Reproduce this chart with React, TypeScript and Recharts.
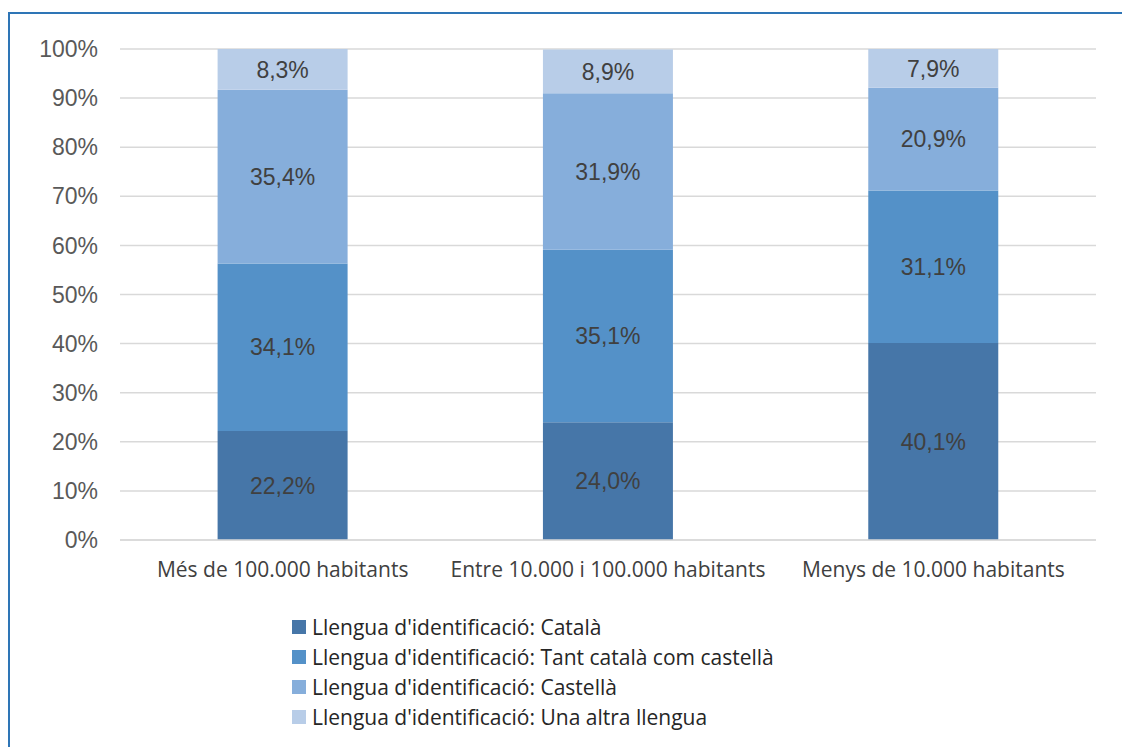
import { BarChart, Bar, XAxis, YAxis, CartesianGrid, LabelList } from "recharts";

const categories = [
  "Més de 100.000 habitants",
  "Entre 10.000 i 100.000 habitants",
  "Menys de 10.000 habitants",
];
const catala = [22.2, 24.0, 40.1];
const tantCom = [34.1, 35.1, 31.1];
const castella = [35.4, 31.9, 20.9];
const altra = [8.3, 8.9, 7.9];
const yTicks = [0, 10, 20, 30, 40, 50, 60, 70, 80, 90, 100];

const series = [
  { key: "catala", name: "Llengua d'identificació: Català", color: "#4676A8" },
  { key: "tantCom", name: "Llengua d'identificació: Tant català com castellà", color: "#5491C8" },
  { key: "castella", name: "Llengua d'identificació: Castellà", color: "#86AEDB" },
  { key: "altra", name: "Llengua d'identificació: Una altra llengua", color: "#B8CDE8" },
];

const data = categories.map((name, i) => ({
  name,
  catala: catala[i],
  tantCom: tantCom[i],
  castella: castella[i],
  altra: altra[i],
}));

const fmt = (v: number) => v.toFixed(1).replace(".", ",") + "%";

export default function App() {
  return (
    <div
      style={{
        marginTop: 4,
        width: 1122,
        height: 735,
        borderTop: "2px solid #2E75B6",
        borderLeft: "2px solid #2E75B6",
        boxSizing: "border-box",
        background: "#fff",
      }}
    >
      <BarChart
        width={1120}
        height={580}
        data={data}
        margin={{ top: 35, right: 34, left: 0, bottom: 14 }}
        barCategoryGap="30%"
      >
        <CartesianGrid vertical={false} stroke="#D9D9D9" strokeWidth={1.5} />
        <XAxis
          dataKey="name"
          height={40}
          tickLine={false}
          axisLine={{ stroke: "#D9D9D9", strokeWidth: 1.5 }}
          tickMargin={16}
          tick={{ fontFamily: "Open Sans", fontSize: 21, fill: "#404040" }}
        />
        <YAxis
          width={110}
          domain={[0, 100]}
          ticks={yTicks}
          tickFormatter={(v: number) => v + "%"}
          axisLine={false}
          tickLine={false}
          tickMargin={16}
          tick={{ fontFamily: "Liberation Sans", fontSize: 23, fill: "#595959" }}
        />
        {series.map((s) => (
          <Bar key={s.key} dataKey={s.key} name={s.name} stackId="a" fill={s.color} isAnimationActive={false}>
            <LabelList
              dataKey={s.key}
              position="center"
              formatter={(v: any) => fmt(Number(v))}
              style={{ fontFamily: "Liberation Sans", fontSize: 23, fill: "#404040" }}
            />
          </Bar>
        ))}
      </BarChart>
      <div style={{ marginTop: 18, paddingLeft: 282, fontFamily: "Open Sans", fontSize: 21, color: "#262626" }}>
        {series.map((s) => (
          <div key={s.key} style={{ display: "flex", alignItems: "center", height: 30 }}>
            <span style={{ width: 14, height: 14, background: s.color, display: "inline-block", marginRight: 6, flexShrink: 0 }} />
            <span>{s.name}</span>
          </div>
        ))}
      </div>
    </div>
  );
}
